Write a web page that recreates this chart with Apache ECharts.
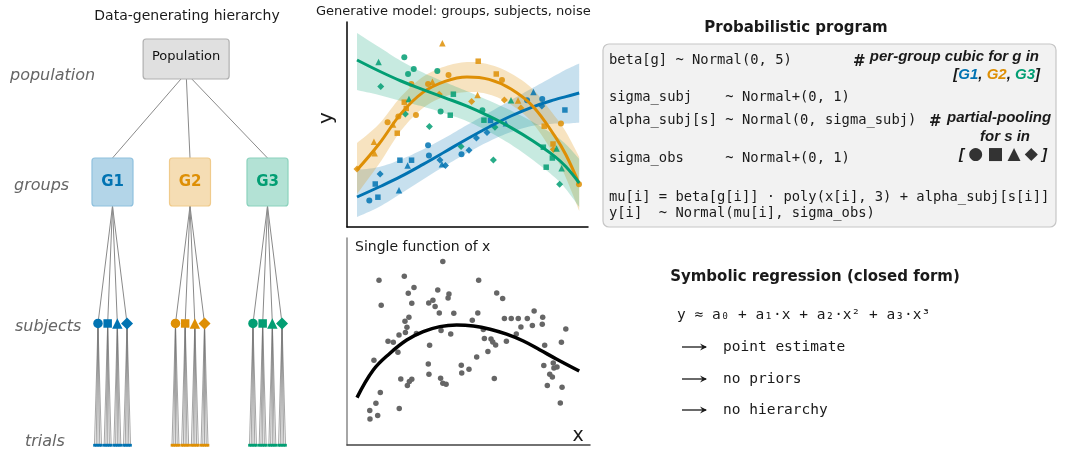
<!DOCTYPE html>
<html>
<head>
<meta charset="utf-8">
<script src="https://cdn.jsdelivr.net/npm/echarts@6/dist/echarts.min.js"></script>
<style>
html, body { margin: 0; padding: 0; background: #fff; }
#chart { width: 1065px; height: 452px; }
</style>
</head>
<body>
<div id="chart"></div>
<script>
// ---------- data ----------
const groupNames = ['G1', 'G2', 'G3'];
const groupColors = ['#0173b2', '#de8f05', '#029e73'];
const subjectShapes = ['circle', 'rect', 'triangle', 'diamond'];

// hierarchy diagram (x: group slots, y: depth level)
const populationX = 1.95;
const groupX = [1, 2, 3];
const subjectOffsets = [-0.1875, -0.0625, 0.0625, 0.1875];
const trialOffsets = [-0.045, -0.0225, 0, 0.0225, 0.045];
const levels = { population: 0, groups: 1, subjects: 2.15, trials: 3.14 };

// generative model: fitted curve and band per group
const curveX = [0, 1, 2, 3, 4, 5, 6, 7, 8, 9, 9.5, 10.1];
const curveG1 = [1.5, 2.0, 2.53, 3.13, 3.76, 4.4, 5.0, 5.55, 6.01, 6.37, 6.52, 6.7];
const curveG2 = [2.85, 4.15, 5.67, 6.73, 7.28, 7.5, 7.38, 6.9, 6.03, 4.53, 3.6, 2.15];
const curveG3 = [8.35, 7.8, 7.3, 6.87, 6.46, 6.04, 5.54, 4.97, 4.3, 3.52, 3.01, 2.2];
const bandG1Lo = [0.5, 1.0, 1.68, 2.38, 3.06, 3.7, 4.28, 4.75, 5.06, 5.17, 5.17, 5.22];
const bandG1Hi = [2.85, 3.0, 3.38, 3.88, 4.46, 5.1, 5.72, 6.35, 6.96, 7.57, 7.87, 8.18];
const bandG2Lo = [1.65, 3.15, 4.82, 5.95, 6.53, 6.75, 6.63, 6.12, 5.18, 3.53, 2.45, 0.8];
const bandG2Hi = [4.2, 5.15, 6.52, 7.51, 8.03, 8.25, 8.13, 7.68, 6.88, 5.53, 4.75, 3.5];
const bandG3Lo = [6.85, 6.6, 6.3, 6.02, 5.68, 5.29, 4.76, 4.12, 3.35, 2.47, 1.89, 1.0];
const bandG3Hi = [9.7, 9.0, 8.3, 7.72, 7.24, 6.79, 6.32, 5.82, 5.25, 4.57, 4.13, 3.4];

// observations [x, y, subject]
const pointsG1 = [[0.56,1.33,0],[0.95,1.49,1],[0.83,2.15,1],[1.05,2.65,3],[1.91,1.84,2],[1.95,3.34,1],[2.48,3.34,1],[2.3,3.07,2],[3.23,4.09,0],[3.27,3.58,0],[3.77,3.35,3],[3.86,3.14,2],[4.02,3.07,3],[4.75,3.64,0],[5.09,3.84,3],[5.43,4.45,3],[5.91,4.72,3],[6.07,5.33,1],[6.77,5.19,2],[7.73,6.34,0],[8.02,6.75,2],[8.42,6.4,0],[8.4,6.05,3],[9.45,5.85,1]];
const pointsG2 = [[3.88,9.19,2],[5.51,8.29,1],[6.33,7.65,1],[6.59,7.35,0],[4.16,7.6,0],[3.43,7.26,2],[3.23,7.15,0],[2.47,7.15,0],[3.74,6.64,3],[5.48,6.6,2],[5.21,6.28,3],[6.7,6.35,3],[7.32,6.32,2],[7.45,5.95,3],[2.15,6.24,1],[2.24,5.93,1],[2.68,5.6,0],[1.88,5.52,0],[1.39,5.24,0],[1.64,5.13,2],[1.83,4.69,1],[0.77,4.26,2],[0.8,3.69,2],[9.27,5.17,0],[8.51,5.04,1],[8.91,4.15,1],[8.92,3.88,3],[10.09,2.14,0],[0.0,2.9,3]];
const pointsG3 = [[0.98,8.25,2],[2.15,8.49,0],[2.32,7.65,0],[2.58,7.9,0],[1.08,7.02,3],[3.65,7.8,0],[2.36,6.4,2],[2.2,5.65,3],[3.8,5.77,0],[4.38,6.64,1],[4.24,5.59,1],[3.29,5.02,3],[4.73,4.02,3],[5.7,5.84,0],[5.77,5.34,1],[6.27,4.99,3],[6.2,3.35,3],[7.0,6.34,2],[8.47,3.99,1],[8.88,3.45,1],[8.6,2.99,1],[9.07,3.92,2],[9.3,2.94,2],[9.21,2.14,3]];

// single function of x
const singleCurveX = [0, 0.74, 1.5, 2.26, 3.01, 3.77, 4.53, 5.29, 6.05, 6.8, 7.56, 8.32, 9.08, 10.1];
const singleCurveY = [2.37, 3.75, 4.59, 5.25, 5.67, 5.92, 6.0, 5.95, 5.79, 5.54, 5.2, 4.75, 4.29, 3.7];
const singlePoints = [[3.9,9.17],[1.0,8.24],[2.15,8.44],[2.59,7.87],[2.33,7.59],[3.67,7.75],[4.18,7.55],[4.14,7.35],[1.1,6.99],[2.49,7.09],[3.26,7.1],[3.45,7.24],[3.55,6.92],[3.74,6.6],[4.4,6.59],[2.36,6.39],[2.18,6.19],[2.27,5.89],[2.2,5.62],[1.91,5.5],[2.7,5.57],[3.82,5.72],[4.26,5.55],[1.41,5.19],[1.65,5.14],[1.86,4.64],[3.3,4.99],[0.77,4.24],[3.24,4.05],[4.74,3.99],[3.27,3.54],[4.76,3.6],[5.09,3.79],[1.99,3.3],[3.8,3.34],[2.49,3.29],[2.38,3.17],[2.29,2.97],[3.9,3.09],[4.05,3.04],[1.06,2.62],[0.86,2.09],[0.58,1.72],[0.59,1.3],[0.94,1.47],[1.92,1.82],[5.53,8.24],[6.35,7.6],[6.62,7.32],[5.49,6.6],[5.24,6.24],[6.7,6.32],[7.01,6.32],[7.33,6.32],[7.74,6.32],[8.05,6.7],[8.44,6.39],[8.42,6.04],[7.97,5.97],[7.45,5.9],[7.24,5.55],[9.49,5.8],[5.74,5.77],[5.79,5.32],[6.09,5.3],[6.17,5.15],[6.3,5.0],[6.79,5.19],[5.95,4.67],[5.44,4.4],[9.29,5.14],[8.53,4.99],[6.24,3.32],[8.49,3.97],[8.92,4.1],[9.09,3.9],[8.95,3.85],[8.76,3.54],[8.88,3.4],[8.65,2.97],[9.32,2.89],[9.24,2.1]];

// text
const codeLines = [
  'beta[g] ~ Normal(0, 5)',
  'sigma_subj    ~ Normal+(0, 1)',
  'alpha_subj[s] ~ Normal(0, sigma_subj)',
  'sigma_obs     ~ Normal+(0, 1)',
  'mu[i] = beta[g[i]] · poly(x[i], 3) + alpha_subj[s[i]]',
  'y[i]  ~ Normal(mu[i], sigma_obs)'
];
const symbolicLines = ['point estimate', 'no priors', 'no hierarchy'];

// ---------- build ----------
const curves = [curveG1, curveG2, curveG3];
const bands = [[bandG1Lo, bandG1Hi], [bandG2Lo, bandG2Hi], [bandG3Lo, bandG3Hi]];
const groupPoints = [pointsG1, pointsG2, pointsG3];

const SANS = '"DejaVu Sans"';
const MONO = '"DejaVu Sans Mono"';
const ARIAL = '"Liberation Sans"';
const INK = '#1a1a1a';

const treeEdges = [];
const trialEdges = [];
const subjectNodes = [];
const trialNodes = [];
groupX.forEach(function (gx, g) {
  treeEdges.push([populationX, levels.population, gx, levels.groups, 0]);
  subjectOffsets.forEach(function (so, s) {
    const sx = gx + so;
    treeEdges.push([gx, levels.groups, sx, levels.subjects, 1]);
    subjectNodes.push([sx, levels.subjects, g, s]);
    trialOffsets.forEach(function (to) {
      trialEdges.push([sx, levels.subjects, sx + to, levels.trials, 2]);
      trialNodes.push([sx + to, levels.trials, g]);
    });
  });
});
const boxData = [[populationX, levels.population, 0]].concat(groupX.map(function (gx, g) { return [gx, levels.groups, g + 1]; }));
const boxLabels = ['Population'].concat(groupNames);
const boxStyles = [
  { w: 86, h: 40, fill: '#e0e0e0', stroke: '#b0b0b0', color: '#111', font: '13px ' + SANS },
  { w: 41, h: 48, fill: '#b3d5e8', stroke: '#8fc1de', color: groupColors[0], font: 'bold 15px ' + SANS },
  { w: 41, h: 48, fill: '#f5ddb4', stroke: '#f0cb8c', color: groupColors[1], font: 'bold 15px ' + SANS },
  { w: 41, h: 48, fill: '#b3e2d5', stroke: '#8bd2bd', color: groupColors[2], font: 'bold 15px ' + SANS }
];
const edgePad = [[20, 24], [24, 0], [0, 0]];
const edgeStyle = [
  { stroke: '#8a8a8a', lineWidth: 1 },
  { stroke: '#8a8a8a', lineWidth: 1 },
  { stroke: '#6f6f6f', lineWidth: 0.9, opacity: 0.7 }
];
const treeSymbolSize = [9.5, 8.5, 10.5, 12];
const plotSymbolSize = [6, 5.5, 6.5, 7];
const bandFills = ['rgba(1,115,178,0.22)', 'rgba(222,143,5,0.25)', 'rgba(2,158,115,0.22)'];

function renderEdge(params, api) {
  const k = api.value(4);
  const a = api.coord([api.value(0), api.value(1)]);
  const b = api.coord([api.value(2), api.value(3)]);
  let ax = a[0];
  if (k === 0) ax += (b[0] - a[0]) * 0.07;
  return {
    type: 'line',
    shape: { x1: ax, y1: a[1] + edgePad[k][0], x2: b[0], y2: b[1] - edgePad[k][1] },
    style: edgeStyle[k]
  };
}

function renderBox(params, api) {
  const k = api.value(2);
  const c = api.coord([api.value(0), api.value(1)]);
  const st = boxStyles[k];
  return {
    type: 'group',
    children: [
      { type: 'rect', shape: { x: c[0] - st.w / 2, y: c[1] - st.h / 2, width: st.w, height: st.h, r: 3 },
        style: { fill: st.fill, stroke: st.stroke, lineWidth: 1.2 } },
      { type: 'text', style: { text: boxLabels[k], x: c[0], y: c[1] - (k === 0 ? 2 : 0), align: 'center', verticalAlign: 'middle', font: st.font, fill: st.color } }
    ]
  };
}

// catmull-rom sampling so the band edges look smooth
function smoothPts(pts, steps) {
  const out = [];
  for (let i = 0; i < pts.length - 1; i++) {
    const p0 = pts[Math.max(i - 1, 0)], p1 = pts[i], p2 = pts[i + 1], p3 = pts[Math.min(i + 2, pts.length - 1)];
    for (let s = 0; s < steps; s++) {
      const t = s / steps, t2 = t * t, t3 = t2 * t;
      out.push([0, 1].map(function (k) {
        return 0.5 * (2 * p1[k] + (-p0[k] + p2[k]) * t + (2 * p0[k] - 5 * p1[k] + 4 * p2[k] - p3[k]) * t2 + (-p0[k] + 3 * p1[k] - 3 * p2[k] + p3[k]) * t3);
      }));
    }
  }
  out.push(pts[pts.length - 1]);
  return out;
}

function renderBand(params, api) {
  const g = api.value(2);
  const hi = curveX.map(function (x, i) { return api.coord([x, bands[g][1][i]]); });
  const lo = curveX.map(function (x, i) { return api.coord([x, bands[g][0][i]]); });
  const pts = smoothPts(hi, 8).concat(smoothPts(lo.reverse(), 8));
  return { type: 'polygon', shape: { points: pts }, style: { fill: bandFills[g] } };
}

function spine(color) {
  return {
    axisLine: { show: true, onZero: false, lineStyle: { color: color, width: 1.5 } },
    axisTick: { show: false }, axisLabel: { show: false }, splitLine: { show: false }
  };
}

const series = [
  { type: 'custom', xAxisIndex: 0, yAxisIndex: 0, silent: true, z: 1, data: trialEdges, encode: { x: [0, 2], y: [1, 3] }, renderItem: renderEdge },
  { type: 'custom', xAxisIndex: 0, yAxisIndex: 0, silent: true, z: 2, data: treeEdges, encode: { x: [0, 2], y: [1, 3] }, renderItem: renderEdge },
  { type: 'custom', xAxisIndex: 0, yAxisIndex: 0, silent: true, z: 3, data: boxData, encode: { x: 0, y: 1 }, renderItem: renderBox },
  { type: 'scatter', xAxisIndex: 0, yAxisIndex: 0, silent: true, z: 4, data: subjectNodes,
    symbol: function (v) { return subjectShapes[v[3]]; },
    symbolSize: function (v) { return treeSymbolSize[v[3]]; },
    itemStyle: { color: function (p) { return groupColors[p.value[2]]; }, opacity: 1 } },
  { type: 'scatter', xAxisIndex: 0, yAxisIndex: 0, silent: true, z: 4, data: trialNodes,
    symbol: 'rect', symbolSize: [2.6, 2.8],
    itemStyle: { color: function (p) { return groupColors[p.value[2]]; }, opacity: 1 } },
  { type: 'custom', xAxisIndex: 1, yAxisIndex: 1, silent: true, z: 1, data: [[0, 0, 0], [0, 0, 1], [0, 0, 2]], encode: { x: 0, y: 1 }, renderItem: renderBand }
];
groupPoints.forEach(function (pts, g) {
  series.push({
    type: 'scatter', xAxisIndex: 1, yAxisIndex: 1, silent: true, z: 2, data: pts,
    symbol: function (v) { return subjectShapes[v[2]]; },
    symbolSize: function (v) { return plotSymbolSize[v[2]]; },
    itemStyle: { color: groupColors[g], opacity: 0.85 }
  });
});
curves.forEach(function (ys, g) {
  series.push({
    type: 'line', xAxisIndex: 1, yAxisIndex: 1, silent: true, z: 3, smooth: 0.4, showSymbol: false,
    data: curveX.map(function (x, i) { return [x, ys[i]]; }),
    lineStyle: { color: groupColors[g], width: 3 }
  });
});
series.push({
  type: 'scatter', xAxisIndex: 2, yAxisIndex: 2, silent: true, z: 2, data: singlePoints,
  symbolSize: 5.5, itemStyle: { color: '#666', opacity: 1 }
});
series.push({
  type: 'line', xAxisIndex: 2, yAxisIndex: 2, silent: true, z: 3, smooth: 0.4, showSymbol: false,
  data: singleCurveX.map(function (x, i) { return [x, singleCurveY[i]]; }),
  lineStyle: { color: '#000', width: 3.5 }
});

function txt(x, y, text, font, extra) {
  return { type: 'text', x: x, y: y, silent: true, z: 10,
    style: Object.assign({ text: text, font: font, fill: INK, align: 'left', verticalAlign: 'middle' }, extra || {}) };
}
function arrow(x, y) {
  return [
    { type: 'line', silent: true, z: 10, shape: { x1: x, y1: y, x2: x + 24, y2: y }, style: { stroke: INK, lineWidth: 1.3 } },
    { type: 'polygon', silent: true, z: 10, shape: { points: [[x + 18, y - 3.5], [x + 25, y], [x + 18, y + 3.5], [x + 20.5, y]] }, style: { fill: INK } }
  ];
}

const italicLabel = 'italic 16px ' + SANS;
const codeFont = '13.8px ' + MONO;
const commentFont = 'italic bold 15px ' + ARIAL;
const codeY = [60, 97, 120, 158, 197, 213];
const symY = [347, 379, 410];

let elements = [
  txt(187, 16, 'Data-generating hierarchy', '14px ' + SANS, { align: 'center' }),
  txt(10, 76, 'population', italicLabel, { fill: '#666' }),
  txt(14, 186, 'groups', italicLabel, { fill: '#666' }),
  txt(15, 327, 'subjects', italicLabel, { fill: '#666' }),
  txt(25, 442, 'trials', italicLabel, { fill: '#666' }),
  txt(316, 12, 'Generative model: groups, subjects, noise', '13px ' + SANS),
  { type: 'text', x: 327, y: 118, rotation: Math.PI / 2, silent: true, z: 10,
    style: { text: 'y', font: '20px ' + SANS, fill: INK, align: 'center', verticalAlign: 'middle' } },
  txt(355, 247, 'Single function of x', '14px ' + SANS),
  txt(578, 436, 'x', '19px ' + SANS, { align: 'center' }),
  txt(796, 28, 'Probabilistic program', 'bold 15px ' + SANS, { align: 'center' }),
  { type: 'rect', silent: true, z: 5, shape: { x: 603, y: 44, width: 453, height: 183, r: 6 },
    style: { fill: '#f2f2f2', stroke: '#c6c6c6', lineWidth: 1.2 } },
  txt(853, 62, '#', 'bold 15px ' + SANS),
  txt(1039, 57, 'per-group cubic for g in', commentFont, { align: 'right' }),
  { type: 'text', x: 1040, y: 75, silent: true, z: 10,
    style: { text: '[{a|G1}, {b|G2}, {c|G3}]', font: commentFont, fill: INK, align: 'right', verticalAlign: 'middle',
      rich: {
        a: { fill: groupColors[0], fontStyle: 'italic', fontWeight: 'bold', fontSize: 15, fontFamily: 'Liberation Sans' },
        b: { fill: groupColors[1], fontStyle: 'italic', fontWeight: 'bold', fontSize: 15, fontFamily: 'Liberation Sans' },
        c: { fill: groupColors[2], fontStyle: 'italic', fontWeight: 'bold', fontSize: 15, fontFamily: 'Liberation Sans' }
      } } },
  txt(929, 122, '#', 'bold 15px ' + SANS),
  txt(947, 118, 'partial-pooling', commentFont),
  txt(1005, 137, 'for s in', commentFont, { align: 'center' }),
  { type: 'text', x: 1003, y: 155, silent: true, z: 10,
    style: { text: '[ {s|●} {s|■} {s|▲} {s|◆} ]', font: commentFont, fill: INK, align: 'center', verticalAlign: 'middle',
      rich: { s: { fill: '#333', fontSize: 17, fontFamily: 'DejaVu Sans' } } } },
  txt(815, 277, 'Symbolic regression (closed form)', 'bold 15px ' + SANS, { align: 'center' }),
  txt(677, 315, 'y ≈ a₀ + a₁·x + a₂·x² + a₃·x³', '14.5px ' + MONO)
];
codeLines.forEach(function (line, i) { elements.push(txt(609, codeY[i], line, codeFont)); });
symbolicLines.forEach(function (line, i) {
  elements = elements.concat(arrow(682, symY[i]));
  elements.push(txt(723, symY[i], line, '14.5px ' + MONO));
});

const option = {
  animation: false,
  backgroundColor: '#fff',
  textStyle: { fontFamily: 'DejaVu Sans' },
  grid: [
    { left: 35, top: 9.8, width: 310, height: 441.6, outerBoundsMode: 'none' },
    { left: 347, top: 22, width: 241, height: 205, outerBoundsMode: 'none' },
    { left: 347, top: 238, width: 243, height: 207, outerBoundsMode: 'none' }
  ],
  xAxis: [
    { gridIndex: 0, type: 'value', min: 0, max: 4, show: false },
    Object.assign({ gridIndex: 1, type: 'value', min: -0.4545, max: 10.5 }, spine('#000')),
    Object.assign({ gridIndex: 2, type: 'value', min: -0.4545, max: 10.59 }, spine('#444'))
  ],
  yAxis: [
    { gridIndex: 0, type: 'value', min: -0.4, max: 3.19, inverse: true, show: false },
    Object.assign({ gridIndex: 1, type: 'value', min: 0, max: 10.25 }, spine('#000')),
    Object.assign({ gridIndex: 2, type: 'value', min: 0, max: 10.35 }, spine('#888'))
  ],
  graphic: { elements: elements },
  series: series
};

const chart = echarts.init(document.getElementById('chart'));
chart.setOption(option);
</script>
</body>
</html>
